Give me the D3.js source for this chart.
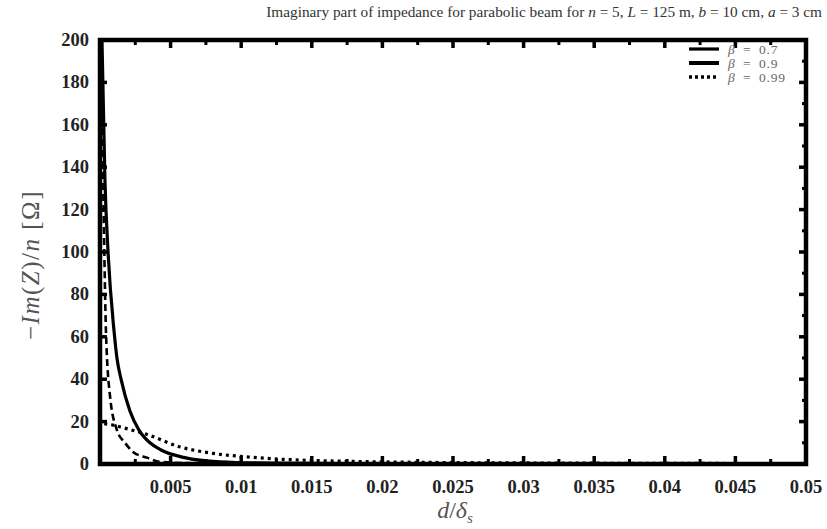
<!DOCTYPE html>
<html>
<head>
<meta charset="utf-8">
<script src="https://cdn.jsdelivr.net/npm/d3@7"></script>
<style>
  body { margin: 0; background: #fff; }
  svg { display: block; }
</style>
</head>
<body>
<svg class="chart" width="827" height="529"></svg>
<script>
// values
var xTicks = [0.005, 0.01, 0.015, 0.02, 0.025, 0.03, 0.035, 0.04, 0.045, 0.05];
var xTickLabels = ["0.005", "0.01", "0.015", "0.02", "0.025", "0.03", "0.035", "0.04", "0.045", "0.05"];
var yTicks = [0, 20, 40, 60, 80, 100, 120, 140, 160, 180, 200];
var seriesNames = ["\u03b2 = 0.7", "\u03b2 = 0.9", "\u03b2 = 0.99"];

// beta = 0.7 (dashed curve, hugs the axis)
var x07 = [0.00007, 0.00028, 0.00042, 0.00071, 0.0012, 0.00177, 0.00234, 0.00333, 0.00425, 0.0071, 0.012, 0.025, 0.05];
var y07 = [200, 110, 63, 32, 16, 10, 5.7, 3, 1, 0.3, 0.15, 0.05, 0.02];
// beta = 0.9 (solid)
var x09 = [0.00014, 0.00035, 0.00057, 0.00099, 0.0012, 0.00149, 0.00212, 0.00276, 0.00354, 0.00432, 0.006, 0.0085, 0.012, 0.02, 0.05];
var y09 = [200, 134, 100, 63, 50, 40, 25, 16, 10, 6.6, 3, 1, 0.4, 0.1, 0.03];
// beta = 0.99 (dotted)
var x099 = [0.0003, 0.0008, 0.0017, 0.0033, 0.0057, 0.008, 0.0105, 0.013, 0.016, 0.02, 0.03, 0.05];
var y099 = [19, 18.5, 17, 14, 8, 5, 3.3, 2.2, 1.5, 1, 0.5, 0.2];

var svg = d3.select(".chart"),
    pLeft = 100, pRight = 806, pTop = 40, pBottom = 464;

var xScale = d3.scaleLinear().domain([0, 0.05]).range([pLeft, pRight]);
var yScale = d3.scaleLinear().domain([0, 200]).range([pBottom, pTop]);

var serif = "'Liberation Serif', 'DejaVu Serif', serif";

// title
svg.append("text")
    .attr("x", 822)
    .attr("y", 17)
    .attr("text-anchor", "end")
    .attr("font-family", serif)
    .attr("font-size", 15.3)
    .attr("fill", "#333")
    .html("Imaginary part of impedance for parabolic beam for <tspan font-style='italic'>n</tspan> = 5, <tspan font-style='italic'>L</tspan> = 125 m, <tspan font-style='italic'>b</tspan> = 10 cm, <tspan font-style='italic'>a</tspan> = 3 cm");

svg.append("clipPath").attr("id", "clip")
    .append("rect")
    .attr("x", pLeft).attr("y", pTop)
    .attr("width", pRight - pLeft).attr("height", pBottom - pTop);

var g = svg.append("g");

// curves
var line = d3.line()
    .x(function(d) { return xScale(d[0]); })
    .y(function(d) { return yScale(d[1]); })
    .curve(d3.curveMonotoneX);

var series = [
    { xs: x07, ys: y07, width: 2.6, dash: "7,4" },
    { xs: x09, ys: y09, width: 3.2, dash: null },
    { xs: x099, ys: y099, width: 3.2, dash: "3,4" }
];

series.forEach(function(s) {
    var pts = s.xs.map(function(x, i) { return [x, s.ys[i]]; });
    g.append("path")
        .datum(pts)
        .attr("clip-path", "url(#clip)")
        .attr("fill", "none")
        .attr("stroke", "#000")
        .attr("stroke-width", s.width)
        .attr("stroke-dasharray", s.dash)
        .attr("d", line);
});

// ticks: bottom / top
var xMinor = d3.range(0.0025, 0.05, 0.005);
xTicks.forEach(function(t) {
    g.append("line").attr("x1", xScale(t)).attr("x2", xScale(t))
        .attr("y1", pBottom).attr("y2", pBottom - 8)
        .attr("stroke", "#000").attr("stroke-width", 3.5);
    g.append("line").attr("x1", xScale(t)).attr("x2", xScale(t))
        .attr("y1", pTop).attr("y2", pTop + 8)
        .attr("stroke", "#000").attr("stroke-width", 3.5);
});
xMinor.forEach(function(t) {
    g.append("line").attr("x1", xScale(t)).attr("x2", xScale(t))
        .attr("y1", pBottom).attr("y2", pBottom - 5)
        .attr("stroke", "#000").attr("stroke-width", 3);
    g.append("line").attr("x1", xScale(t)).attr("x2", xScale(t))
        .attr("y1", pTop).attr("y2", pTop + 5)
        .attr("stroke", "#000").attr("stroke-width", 3);
});

// ticks: left / right
yTicks.forEach(function(t) {
    g.append("line").attr("x1", pLeft).attr("x2", pLeft + 7)
        .attr("y1", yScale(t)).attr("y2", yScale(t))
        .attr("stroke", "#000").attr("stroke-width", 3.5);
    g.append("line").attr("x1", pRight).attr("x2", pRight - 7)
        .attr("y1", yScale(t)).attr("y2", yScale(t))
        .attr("stroke", "#000").attr("stroke-width", 3.5);
});
d3.range(10, 200, 20).forEach(function(t) {
    g.append("line").attr("x1", pRight).attr("x2", pRight - 4)
        .attr("y1", yScale(t)).attr("y2", yScale(t))
        .attr("stroke", "#000").attr("stroke-width", 3);
});

// frame
g.append("rect")
    .attr("x", pLeft).attr("y", pTop)
    .attr("width", pRight - pLeft).attr("height", pBottom - pTop)
    .attr("fill", "none")
    .attr("stroke", "#000")
    .attr("stroke-width", 4.5);

// tick labels
g.selectAll(".xlab")
    .data(xTicks)
    .enter().append("text")
    .attr("class", "xlab")
    .attr("x", function(d) { return xScale(d); })
    .attr("y", 493)
    .attr("text-anchor", "middle")
    .attr("font-family", serif)
    .attr("font-weight", "bold")
    .attr("font-size", 18.5)
    .attr("fill", "#222")
    .text(function(d, i) { return xTickLabels[i]; });

g.selectAll(".ylab")
    .data(yTicks)
    .enter().append("text")
    .attr("class", "ylab")
    .attr("x", 89)
    .attr("y", function(d) { return yScale(d) + 6; })
    .attr("text-anchor", "end")
    .attr("font-family", serif)
    .attr("font-weight", "bold")
    .attr("font-size", 18.5)
    .attr("fill", "#222")
    .text(function(d) { return d; });

// axis titles
svg.append("text")
    .attr("transform", "translate(39,265) rotate(-90)")
    .attr("text-anchor", "middle")
    .attr("font-family", serif)
    .attr("font-size", 25)
    .attr("letter-spacing", 1.5)
    .attr("fill", "#555")
    .html("\u2212<tspan font-style='italic'>Im</tspan>(<tspan font-style='italic'>Z</tspan>)/<tspan font-style='italic'>n</tspan> [\u03a9]");

svg.append("text")
    .attr("x", 455)
    .attr("y", 518)
    .attr("text-anchor", "middle")
    .attr("font-family", serif)
    .attr("font-size", 24)
    .attr("fill", "#555")
    .html("<tspan font-style='italic'>d</tspan>/<tspan font-style='italic'>\u03b4</tspan><tspan font-style='italic' font-size='15' dy='5'>s</tspan>");

// legend
var legendY = [49, 63, 77];
var legendDash = [null, null, "3,3"];
var legendWidth = [3.2, 4, 3.5];
seriesNames.forEach(function(name, i) {
    svg.append("line")
        .attr("x1", 689).attr("x2", 719)
        .attr("y1", legendY[i]).attr("y2", legendY[i])
        .attr("stroke", "#000")
        .attr("stroke-width", legendWidth[i])
        .attr("stroke-dasharray", legendDash[i]);
    svg.append("text")
        .attr("x", 728)
        .attr("y", legendY[i] + 4.5)
        .attr("font-family", serif)
        .attr("font-size", 13.5)
        .attr("letter-spacing", 0.8)
        .attr("fill", "#666")
        .html("<tspan font-style='italic'>\u03b2</tspan>" + name.slice(1).replace(/ /g, "\u2002"));
});
</script>
</body>
</html>
